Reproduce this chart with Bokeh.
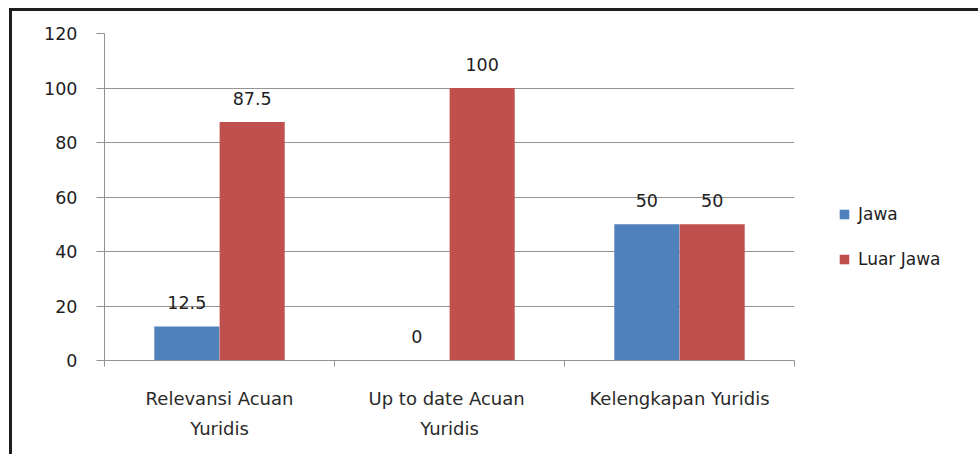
from bokeh.plotting import figure
from bokeh.models import (ColumnDataSource, FactorRange, Range1d, LinearAxis, CategoricalAxis,
                          FixedTicker, LabelSet, CustomJSTickFormatter)
from bokeh.core.properties import value
from bokeh.transform import dodge
from bokeh.embed import file_html
from bokeh.resources import INLINE

categories = ["Relevansi Acuan Yuridis", "Up to date Acuan Yuridis", "Kelengkapan Yuridis"]
line1 = ["Relevansi Acuan", "Up to date  Acuan", "Kelengkapan Yuridis"]
line2 = ["Yuridis", "Yuridis", ""]
jawa = [12.5, 0, 50]
luar_jawa = [87.5, 100, 50]
y_ticks = [0, 20, 40, 60, 80, 100, 120]
series_names = ["Jawa", "Luar Jawa"]

BLUE = "#4F81BD"
RED = "#C0504D"
GRID = "#939393"
FONT = "DejaVu Sans"

source = ColumnDataSource(dict(
    cat=categories,
    jawa=jawa,
    luar=luar_jawa,
    jawa_txt=[f"{v:g}" for v in jawa],
    luar_txt=[f"{v:g}" for v in luar_jawa],
))

p = figure(frame_width=690, frame_height=327, output_backend="svg", toolbar_location=None,
           x_range=FactorRange(factors=categories, range_padding=0),
           y_range=Range1d(0, 120), x_axis_location=None,
           min_border_left=92, min_border_right=184, min_border_top=22, min_border_bottom=94,
           outline_line_color=None,
           styles={"margin-left": "9px", "margin-top": "8px",
                   "border-left": "3px solid #1e1e1e", "border-top": "3px solid #1e1e1e"})

p.vbar(x=dodge("cat", -0.142, range=p.x_range), top="jawa", width=0.283, source=source,
       fill_color=BLUE, line_color=None, legend_label=series_names[0])
p.vbar(x=dodge("cat", 0.142, range=p.x_range), top="luar", width=0.283, source=source,
       fill_color=RED, line_color=None, legend_label=series_names[1])

for col, txt, off in [("jawa", "jawa_txt", -0.142), ("luar", "luar_txt", 0.142)]:
    p.add_layout(LabelSet(x=dodge("cat", off, range=p.x_range), y=col, text=txt, source=source,
                          y_offset=24, text_align="center", text_baseline="middle",
                          text_font=value(FONT), text_font_size="17.5px", text_color="#1e1e1e"))

# y axis
yax = p.yaxis[0]
yax.ticker = FixedTicker(ticks=y_ticks)
yax.major_tick_out = 8
yax.major_tick_in = 0
yax.minor_tick_line_color = None
yax.axis_line_color = GRID
yax.major_tick_line_color = GRID
yax.major_label_standoff = 19
yax.major_label_text_font = FONT
yax.major_label_text_font_size = "17.5px"
yax.major_label_text_color = "#1e1e1e"

p.xgrid.visible = False
p.ygrid.ticker = FixedTicker(ticks=y_ticks)
p.ygrid.grid_line_color = GRID
p.ygrid.grid_line_width = 1

# x axis: ticks at category boundaries (synthetic coordinates of the factor range)
bounds = list(range(len(categories) + 1))
tick_axis = LinearAxis(ticker=FixedTicker(ticks=bounds),
                       major_label_overrides={b: "" for b in bounds},
                       major_tick_out=6, major_tick_in=0, minor_tick_line_color=None,
                       axis_line_color=GRID, major_tick_line_color=GRID,
                       major_label_text_font_size="0px", major_label_standoff=0)
p.add_layout(tick_axis, "below")

def cat_axis(lines, standoff):
    return CategoricalAxis(
        formatter=CustomJSTickFormatter(args=dict(lab=dict(zip(categories, lines))),
                                        code="const s = lab[tick]; return s === undefined ? tick : s;"),
        axis_line_color=None, major_tick_line_color=None, major_tick_out=0, major_tick_in=0,
        major_label_standoff=standoff, major_label_text_font=FONT,
        major_label_text_font_size="18px", major_label_text_color="#2a2a2a")

p.add_layout(cat_axis(line1, 21), "below")
p.add_layout(cat_axis(line2, 6), "below")

lg = p.legend[0]
p.center.remove(lg)
p.add_layout(lg, "right")
lg.location = (44, 91)
lg.padding = 0
lg.margin = 0
lg.spacing = 25
lg.border_line_color = None
lg.background_fill_alpha = 0
lg.glyph_width = 12
lg.glyph_height = 12
lg.label_standoff = 8
lg.label_text_font = FONT
lg.label_text_font_size = "17px"
lg.label_text_color = "#1e1e1e"
lg.label_height = 20

open("out.html", "w").write(file_html(p, INLINE))
